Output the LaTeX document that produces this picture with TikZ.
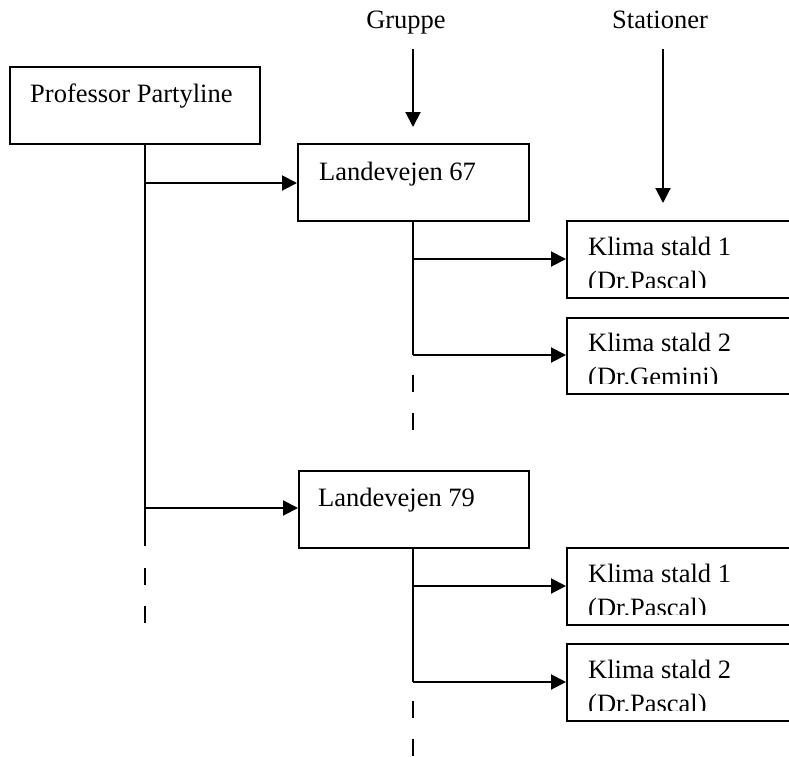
\documentclass[tikz,border=0pt]{standalone}
\usepackage{fontspec}
\setmainfont{Liberation Serif}
\usetikzlibrary{arrows.meta}
\begin{document}
\begin{tikzpicture}[x=1pt,y=-1pt,
  box/.style={draw,line width=2pt,rectangle,anchor=north west,inner sep=0pt,minimum height=77pt},
  lbl/.style={anchor=base west,inner sep=0pt,font=\fontsize{26.5}{30}\selectfont},
  toplbl/.style={anchor=base,inner sep=0pt,font=\fontsize{26.5}{30}\selectfont},
  conn/.style={line width=2pt},
  arr/.style={line width=2pt,-{Triangle[length=15pt,width=15pt]}},
  dsh/.style={line width=2pt,dash pattern=on 17pt off 21pt}]
\useasboundingbox (0,0) rectangle (789,756);
% boxes
\node[box,minimum width=250pt] (prof) at (9,66) {};
\node[box,minimum width=231pt] (l67) at (297,143) {};
\node[box,minimum width=240pt] (k1a) at (566,220) {};
\node[box,minimum width=240pt,minimum height=76pt] (k2a) at (566,317) {};
\node[box,minimum width=230pt] (l79) at (298,470) {};
\node[box,minimum width=240pt] (k1b) at (566,547) {};
\node[box,minimum width=240pt] (k2b) at (566,643) {};
% texts
\node[lbl] (tprof) at (30,102) {Professor Partyline};
\node[lbl] (tl67) at (319,180) {Landevejen 67};
\node[lbl] (tl79) at (318,506) {Landevejen 79};
\node[lbl] (tk1a) at (588,255) {Klima stald 1};
\node[lbl] (tk2a) at (588,351) {Klima stald 2};
\node[lbl] (tk1b) at (588,582) {Klima stald 1};
\node[lbl] (tk2b) at (588,678) {Klima stald 2};
\begin{scope}
\clip (566,262) rectangle (789,287);
\node[lbl] (sk1a) at (588,289) {(Dr.Pascal)};
\end{scope}
\begin{scope}
\clip (566,358) rectangle (789,383);
\node[lbl] (sk2a) at (588,385) {(Dr.Gemini)};
\end{scope}
\begin{scope}
\clip (566,589) rectangle (789,614);
\node[lbl] (sk1b) at (588,616) {(Dr.Pascal)};
\end{scope}
\begin{scope}
\clip (566,685) rectangle (789,710);
\node[lbl] (sk2b) at (588,712) {(Dr.Pascal)};
\end{scope}
% header labels and arrows
\node[toplbl] (grp) at (406,28) {Gruppe};
\node[toplbl] (sta) at (660,28) {Stationer};
\coordinate (ga) at (413,49);
\coordinate (gb) at (413,127);
\coordinate (sa) at (663,49);
\coordinate (sb) at (663,203);
\draw[arr] (ga) -- (gb);
\draw[arr] (sa) -- (sb);
% main trunk
\coordinate (m0) at (prof.south west -| 145,0);
\coordinate (m1) at (145,183);
\coordinate (m2) at (145,508);
\coordinate (m3) at (145,546);
\coordinate (md0) at (145,568);
\coordinate (md1) at (145,624);
\draw[conn] (m0) -- (m3);
\draw[dsh] (md0) -- (md1);
\draw[arr] (m1) -- (m1 -| l67.west);
\draw[arr] (m2) -- (m2 -| l79.west);
% group 1 trunk
\coordinate (a0) at (l67.south west -| 413,0);
\coordinate (a1) at (413,259);
\coordinate (a2) at (413,355);
\coordinate (ad0) at (413,375);
\coordinate (ad1) at (413,432);
\draw[conn] (a0) -- (a2);
\draw[dsh] (ad0) -- (ad1);
\draw[arr] (a1) -- (a1 -| k1a.west);
\draw[arr] (a2) -- (a2 -| k2a.west);
% group 2 trunk
\coordinate (b0) at (l79.south west -| 413,0);
\coordinate (b1) at (413,586);
\coordinate (b2) at (413,682);
\coordinate (bd0) at (413,701);
\coordinate (bd1) at (413,757);
\draw[conn] (b0) -- (b2);
\draw[dsh] (bd0) -- (bd1);
\draw[arr] (b1) -- (b1 -| k1b.west);
\draw[arr] (b2) -- (b2 -| k2b.west);
\end{tikzpicture}
\end{document}
